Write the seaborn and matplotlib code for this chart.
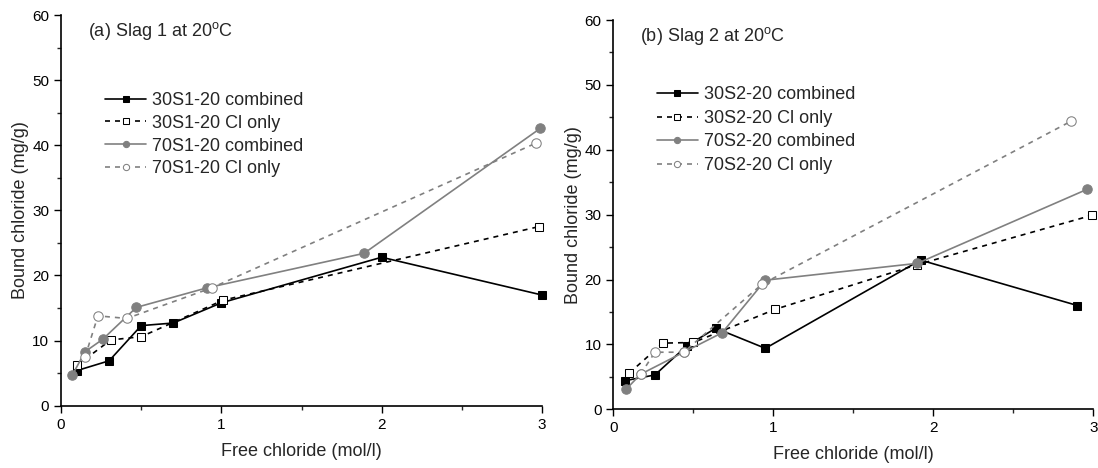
import matplotlib
matplotlib.use("Agg")
import matplotlib.pyplot as plt
import seaborn as sns
import pandas as pd
from matplotlib.ticker import MultipleLocator

# ---- data ----
a30c_x = [0.10, 0.30, 0.50, 0.70, 1.00, 2.00, 3.00]
a30c_y = [5.4, 6.9, 12.3, 12.7, 15.8, 22.8, 17.0]
a30o_x = [0.10, 0.31, 0.50, 1.01, 2.98]
a30o_y = [6.2, 10.1, 10.6, 16.2, 27.5]
a70c_x = [0.07, 0.15, 0.26, 0.47, 0.91, 1.89, 2.99]
a70c_y = [4.7, 8.3, 10.2, 15.1, 18.1, 23.4, 42.6]
a70o_x = [0.15, 0.23, 0.41, 0.94, 2.96]
a70o_y = [7.5, 13.8, 13.4, 18.1, 40.3]

b30c_x = [0.07, 0.26, 0.46, 0.64, 0.95, 1.92, 2.90]
b30c_y = [4.4, 5.3, 9.8, 12.5, 9.4, 23.0, 16.0]
b30o_x = [0.10, 0.31, 0.50, 1.01, 1.90, 2.99]
b30o_y = [5.6, 10.2, 10.3, 15.4, 22.3, 29.9]
b70c_x = [0.08, 0.17, 0.44, 0.68, 0.95, 1.90, 2.96]
b70c_y = [3.1, 5.4, 8.8, 11.8, 19.9, 22.5, 33.9]
b70o_x = [0.17, 0.26, 0.44, 0.93, 2.86]
b70o_y = [5.4, 8.8, 8.8, 19.3, 44.4]

labels_a = ["30S1-20 combined", "30S1-20 Cl only", "70S1-20 combined", "70S1-20 Cl only"]
labels_b = ["30S2-20 combined", "30S2-20 Cl only", "70S2-20 combined", "70S2-20 Cl only"]
title_a = "(a) Slag 1 at 20$^{\\mathrm{o}}$C"
title_b = "(b) Slag 2 at 20$^{\\mathrm{o}}$C"
xlabel = "Free chloride (mol/l)"
ylabel = "Bound chloride (mg/g)"

sns.set_style("ticks")
plt.rcParams["font.family"] = ["Liberation Sans", "DejaVu Sans"]
plt.rcParams["mathtext.fontset"] = "custom"
plt.rcParams["mathtext.rm"] = "Liberation Sans"

GREY = "#808080"
styles = [
    dict(color="black", linestyle="-", marker="s", markerfacecolor="black", markeredgecolor="black", markersize=5.8),
    dict(color="black", linestyle=(0, (3, 3)), marker="s", markerfacecolor="white", markeredgecolor="black", markersize=5.8),
    dict(color=GREY, linestyle="-", marker="o", markerfacecolor=GREY, markeredgecolor=GREY, markersize=6.8),
    dict(color=GREY, linestyle=(0, (3, 3)), marker="o", markerfacecolor="white", markeredgecolor=GREY, markersize=6.8),
]

fig = plt.figure(figsize=(10.98, 4.68), dpi=100)
ax_a = fig.add_axes([0.0556, 0.1331, 0.438, 0.8348])
ax_b = fig.add_axes([0.5586, 0.1254, 0.4372, 0.8318])

panels = [
    (ax_a, [(a30c_x, a30c_y), (a30o_x, a30o_y), (a70c_x, a70c_y), (a70o_x, a70o_y)], labels_a, title_a,
     (0.0568, 0.960), (0.0915, 0.803), 0.32),
    (ax_b, [(b30c_x, b30c_y), (b30o_x, b30o_y), (b70c_x, b70c_y), (b70o_x, b70o_y)], labels_b, title_b,
     (0.0556, 0.960), (0.0904, 0.8297), 0.36),
]

for ax, series, labels, title, tpos, lpos, lsp in panels:
    for (xs, ys), lab, st in zip(series, labels, styles):
        df = pd.DataFrame({"x": xs, "y": ys})
        sns.lineplot(data=df, x="x", y="y", ax=ax, sort=False, estimator=None,
                     label=lab, linewidth=1.2, clip_on=False, **st)
    ax.set_xlim(0, 3)
    ax.set_ylim(0, 60)
    ax.xaxis.set_major_locator(MultipleLocator(1))
    ax.xaxis.set_minor_locator(MultipleLocator(0.5))
    ax.yaxis.set_major_locator(MultipleLocator(10))
    ax.yaxis.set_minor_locator(MultipleLocator(5))
    ax.tick_params(which="major", direction="out", length=5, width=1, labelsize=11, colors="black")
    ax.tick_params(which="minor", direction="out", length=3, width=1)
    for s in ["left", "bottom"]:
        ax.spines[s].set_linewidth(1.2)
        ax.spines[s].set_color("black")
    sns.despine(ax=ax)
    ax.set_xlabel(xlabel, fontsize=13, labelpad=8)
    ax.set_ylabel(ylabel, fontsize=13, labelpad=2)
    ax.text(tpos[0], tpos[1], title, transform=ax.transAxes, fontsize=13, va="center", ha="left")
    leg = ax.legend(loc="upper left", bbox_to_anchor=lpos, frameon=False, fontsize=13,
                    handlelength=2.28, handletextpad=0.32, labelspacing=lsp, borderaxespad=0, borderpad=0)
    for h in leg.legend_handles:
        h.set_markersize(4.5)

fig.savefig("out.png", dpi=100)
